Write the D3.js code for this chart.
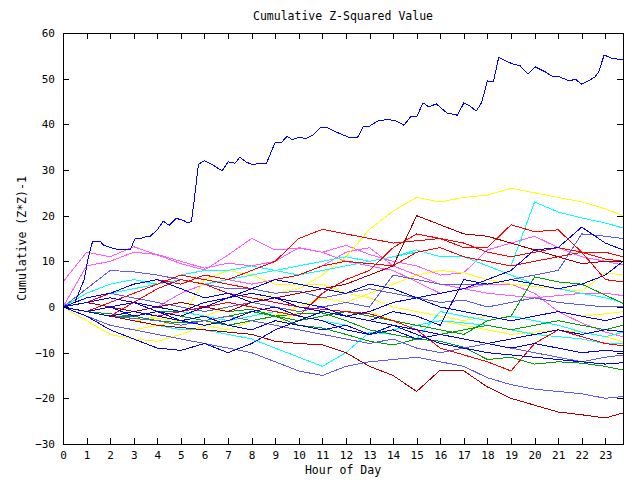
<!DOCTYPE html>
<html><head><meta charset="utf-8">
<script src="https://cdn.jsdelivr.net/npm/d3@7/dist/d3.min.js"></script>
<style>body{margin:0;background:#fff}svg{display:block}</style></head>
<body><svg id="chart" width="640" height="480"></svg>
<script>
// ---- data ----
const hours = [0,1,2,3,4,5,6,7,8,9,10,11,12,13,14,15,16,17,18,19,20,21,22,23,23.75];
const xTickValues = [0,1,2,3,4,5,6,7,8,9,10,11,12,13,14,15,16,17,18,19,20,21,22,23];
const yTickValues = [-30,-20,-10,0,10,20,30,40,50,60];

const topBlueHours = [0,0.5,0.9,1.05,1.25,1.6,1.7,2.1,2.4,2.85,3.05,3.25,3.45,3.7,4.0,4.25,4.5,4.8,5.1,5.3,5.45,5.55,5.65,5.75,6.0,6.35,6.75,7.0,7.3,7.5,7.75,8.05,8.3,8.63,9.0,9.24,9.51,9.72,10.0,10.3,10.6,10.9,11.18,11.5,12.1,12.5,12.72,13.0,13.33,13.78,14.16,14.46,14.77,15.0,15.27,15.52,15.83,16.28,16.73,17.0,17.27,17.52,17.75,18.0,18.25,18.48,18.78,19.08,19.39,19.72,20.02,20.45,20.72,21.05,21.48,21.73,21.99,22.27,22.57,22.72,22.95,23.25,23.75];
const topBlueValues = [0,1,6,10.3,14.3,14.3,13.6,12.9,12.5,12.5,14.9,14.9,15.3,15.5,16.9,18.8,17.9,19.4,19.0,18.4,18.8,22.8,27.2,31.3,32.0,31.1,29.8,31.8,31.5,32.8,31.8,31.1,31.5,31.5,36.1,35.9,37.4,36.6,37.2,36.9,37.6,39.2,39.4,38.5,37.2,37.2,39.4,39.6,40.7,41.1,40.7,39.8,41.8,41.6,44.7,43.8,44.5,42.5,42.0,44.7,44.0,42.9,44.7,49.5,49.3,54.7,53.9,53.2,52.8,51.0,52.6,51.5,50.6,50.4,49.5,49.9,48.8,49.5,50.4,51.5,55.2,54.5,54.1];

const pink1 = [5.5,12,11,13.2,11.4,9.5,8.1,11.4,15,12.5,12.9,12,10,9,8,5.5,3,4,5,5,3,-1,-3.5,-5.5,-6.5];
const pink2 = [0,9,10,12,11.5,10,8.5,9.6,9,10,13,12,13.5,11.5,10,9,7,7.5,12.5,14,15.5,13,11,10,9.2];
const pink3 = [0,1,0,-1,0,3,5,6,5,6,7,9,12,13,9,7,5,4,3,2.5,2,2.5,3,3,2.5];
const yellow1 = [0,-1,-2,-3,-2,-1,-2,0,1,3,4,7,11,17,21,24,23,24,24.5,26,25,24,23,21.5,20];
const yellow2 = [0,-2,-4,-5,-4,-3,-4,-5,-3,-2,0,2,1,3,5,7,8,7.5,6,5,4.5,4,3.5,7.5,7];
const yellow3 = [0,-3,-6,-7,-7.5,-6,-4,-2,-3,-4,-1,0,-2,-1,-3,-4,-3,-4,-5,-6,-5.5,-5,-5.5,-6.5,-7.6];
const yellow4 = [0,-1,-2,-3,-2.5,-3,6,8,7,5,5,5,3,2,0,-1,-2,-3,-2,-3,-2,-1,-2,-1.5,-1];
const cyan1 = [0,2,3,4,5,6,5,6,7,8,9,10,11,10,11,12.5,11,11,10,9,23,20.8,19.5,18.4,17.3];
const cyan2 = [0,-1,-2,-3,-4,-5,-5,-6,-7,-9,-11,-13,-10,-5.5,-6,-7,-1,-2,-3,-2,-3,-4,-5.5,-6.5,-5.5];
const cyan3 = [0,1,2,1,0,-1,-2,-3,-2,-1,-2,-3,-4,-6,-5,-4,-3,-3.5,-4,-5,-6,-6.5,-7,-8,-8];
const cyan4 = [0,3,5,6,5,7,8,8,9,8,7,8,9,10,11,12,13,11,9,7,5,4,3,2,1];
const midBlue1 = [0,-2,-4,-5,-6,-7,-8,-9,-10,-12,-14,-15,-13,-12,-11.5,-11,-12,-13,-15.5,-17,-18,-18.5,-19,-20,-19.6];
const midBlue2 = [0,1,3,2,1,0,-1,0,1,0,-1,0,1,0,7,6,5,5,5,6,7,8,16,15.5,15];
const midBlue3 = [0,4,8,7.7,7,6,5,4,4,3,3.5,2,3,4,3,2,1,1.5,0,1,2,1,0.5,0,0.1];
const midBlue4 = [0,-1,-2,-2.5,-3,-4,-3,-2,-3,-4,-5,-6,-7,-8,-7,-9,-10,-9,-8,-9,-10,-11,-12,-11,-10.5];
const blue2 = [0,-1,0,1,0,-1,1,2,3,2,1,0,-2,-1,1,2,3,4,6,8,12.5,13,17.5,14,12.5];
const blue3 = [0,-2,-5,-7,-9,-9.5,-8,-10,-8,-5,-3,-1,-2,-3,-4,-5,-6,-7,-8,-7,-6,-5,-6,-5,-5.4];
const blue4 = [0,1,2,1,-1,-2,0,2,4,6,5,4,3,5,4,2,0,-1,-2,-3,-2,-1,-2,-3,-2];
const blue5 = [0,-1,-2,-1,-2,-3,-2,-4,-5,-3,-4,-5,-4,-6,-5,-7,-6,-7,-8,-9,-8,-9,-10,-9.5,-9.8];
const blue6 = [0,-1,0,-2,-1,-3,-4,-3,-1,0,-2,-3,-5,-6,-4,-6,-8,-9,-10,-10.5,-11,-11.5,-12,-12.5,-12.2];
const blue7 = [0,2,3,5,6,4,2,3,1,2,0,-1,-2,-3,-1,-2,-4,6,5,6,5,4,5,7,10];
const red1 = [0,1,3,5,6,5,7,6,8,10,15,17,16,15,14,14.5,15,13,13,18,16.5,16.9,12,6,5.5];
const red2 = [0,-1,1,3,5,7,6,5,4,6,7,9,10,9.5,9,12,13,11,10,9,10,11,12,12,11];
const red3 = [0,-1,-2,1,4,6,5,3,2,1,0,-0.5,-1,-1.5,-3,-5,-9,-10.5,-12,-14,-8,-5,-6.5,-8,-8.5];
const red4 = [0,1,0,-1,-2,-1,0,1,0,-1,-2,3,6,8,13,16,15,14,12,11,12,13,12,10.5,10];
const darkRed1 = [0,1,0,-1,0,1,0,-1,1,2,3,4,5,7,9,20,18,16,15.5,14,12.5,11,9.5,10,10];
const darkRed2 = [0,-1,-2,-3,-4,-4.5,-5,-5.5,-6,-7.5,-8,-8.3,-10,-13,-15,-18.5,-13.8,-14,-17.5,-20,-21.5,-23,-23.6,-24.3,-23.2];
const green1 = [0,-1,-2,-2,-3,-3.5,-3,-2,-1,-2,-3,-2,-1,-2,-3,-4,-5,-6,-3,-2,6.6,5.5,5,2.6,0.8];
const green2 = [0,-1,-2,-2,-1,-1,0,-1,-0.5,-2,-4,-4.6,-6,-7.5,-8.3,-7,-7.5,-8.8,-11.5,-11,-12.5,-12,-12.3,-13,-13.8];
const green3 = [0,-1,-1.5,-2,-1,-2,-3,-4,-3,-2,-1.5,-1.3,-3,-5,-6,-7,-6,-5,-4,-5,-4,-3,-4,-5,-4];

// ---- styles ----
const C = {blue:"#0000ff", mid:"#5a5aff", red:"#ff0000", dred:"#a80000", green:"#00a000", yellow:"#ffff00", cyan:"#00ffff", pink:"#ff5aff"};
const hourly = [
  [pink1,C.pink],[pink2,C.pink],[pink3,C.pink],
  [yellow1,C.yellow],[yellow2,C.yellow],[yellow3,C.yellow],[yellow4,C.yellow],
  [cyan1,C.cyan],[cyan2,C.cyan],[cyan3,C.cyan],[cyan4,C.cyan],
  [green1,C.green],[green2,C.green],[green3,C.green],
  [midBlue1,C.mid],[midBlue2,C.mid],[midBlue3,C.mid],[midBlue4,C.mid],
  [red1,C.red],[red2,C.red],[red3,C.red],[red4,C.red],
  [darkRed1,C.dred],[darkRed2,C.dred],
  [blue2,C.blue],[blue3,C.blue],[blue4,C.blue],[blue5,C.blue],[blue6,C.blue],[blue7,C.blue]
];

// ---- chart ----
const svg = d3.select("#chart");
const L = 63, R = 623, T = 33, B = 444;
const x = d3.scaleLinear().domain([0, 23.75]).range([L, R]);
const y = d3.scaleLinear().domain([-30, 60]).range([B, T]);
const font = "'DejaVu Sans Mono', 'Liberation Mono', monospace";

svg.append("rect").attr("width",640).attr("height",480).attr("fill","#fff");

const line = d3.line().x(d => x(d[0])).y(d => y(d[1]));
const plot = svg.append("g");
hourly.forEach(([vals, col]) => {
  const pts = hours.map((h,i) => [h, vals[i]]).filter(d => d[1] !== undefined);
  plot.append("path").attr("d", line(pts)).attr("fill","none")
    .attr("stroke", col).attr("stroke-width",1).attr("shape-rendering","crispEdges");
});
plot.append("path").attr("d", line(topBlueHours.map((h,i)=>[h, topBlueValues[i]])))
  .attr("fill","none").attr("stroke",C.blue).attr("stroke-width",1).attr("shape-rendering","crispEdges");

// axes (ticks inward on all sides)
const styleAxis = g => { g.select(".domain").remove(); g.selectAll("text").attr("font-family",font).attr("font-size","11px").attr("fill","#000"); g.selectAll("line").attr("stroke","#000").attr("shape-rendering","crispEdges"); };
svg.append("g").attr("transform",`translate(0,${B})`)
  .call(d3.axisBottom(x).tickValues(xTickValues).tickFormat(d3.format("d")).tickSizeInner(-6).tickSizeOuter(0).tickPadding(7))
  .call(styleAxis);
svg.append("g").attr("transform",`translate(0,${T})`)
  .call(d3.axisTop(x).tickValues(xTickValues).tickFormat("").tickSizeInner(-6).tickSizeOuter(0))
  .call(styleAxis);
svg.append("g").attr("transform",`translate(${L},0)`)
  .call(d3.axisLeft(y).tickValues(yTickValues).tickFormat(d3.format("d")).tickSizeInner(-6).tickSizeOuter(0).tickPadding(8))
  .call(styleAxis);
svg.append("g").attr("transform",`translate(${R},0)`)
  .call(d3.axisRight(y).tickValues(yTickValues).tickFormat("").tickSizeInner(-6).tickSizeOuter(0))
  .call(styleAxis);

svg.append("rect").attr("x",L+0.5).attr("y",T+0.5).attr("width",R-L).attr("height",B-T)
  .attr("fill","none").attr("stroke","#000").attr("stroke-width",1);

svg.append("text").attr("x",(L+R)/2).attr("y",20).attr("text-anchor","middle")
  .attr("font-family",font).attr("font-size","11.5px").text("Cumulative Z-Squared Value");
svg.append("text").attr("x",(L+R)/2).attr("y",474).attr("text-anchor","middle")
  .attr("font-family",font).attr("font-size","11.5px").text("Hour of Day");
svg.append("text").attr("transform",`translate(26,${(T+B)/2}) rotate(-90)`).attr("text-anchor","middle")
  .attr("font-family",font).attr("font-size","11.5px").text("Cumulative (Z*Z)-1");
</script></body></html>
